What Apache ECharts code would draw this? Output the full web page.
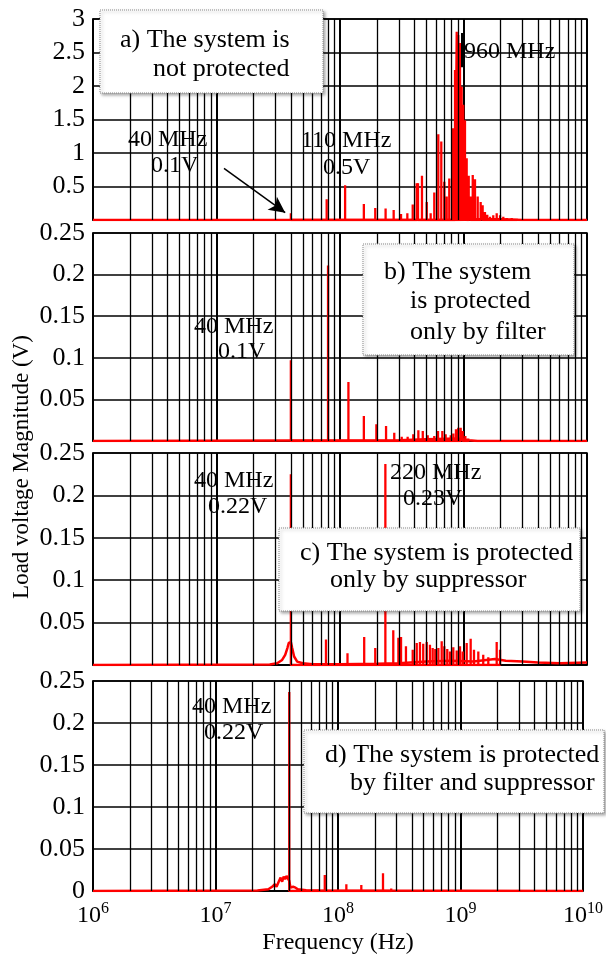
<!DOCTYPE html>
<html>
<head>
<meta charset="utf-8">
<script src="https://cdn.jsdelivr.net/npm/echarts@6/dist/echarts.min.js"></script>
<style>
  html, body { margin: 0; padding: 0; background: #fff; }
  #chart { width: 606px; height: 957px; }
</style>
</head>
<body>
<div id="chart"></div>
<script>
// frequencies in MHz, magnitudes in V
const aFreq = [40, 78, 110, 156, 193, 234, 272, 312, 351, 388, 418, 428, 461, 504, 542, 580, 625, 661, 699, 731, 767, 818, 854, 881, 907, 937, 966, 995, 1028, 1061, 1102, 1143, 1188, 1239, 1303, 1377, 1429, 1492, 1558, 1640, 1742, 1857, 1977, 2100, 2239, 2456, 2699];
const aAmp = [0.1, 0.31, 0.52, 0.24, 0.18, 0.17, 0.15, 0.09, 0.1, 0.23, 0.55, 0.55, 0.66, 0.27, 0.1, 0.41, 1.28, 1.17, 0.57, 0.35, 0.62, 1.37, 2.24, 2.81, 2.76, 2.64, 1.99, 1.72, 1.49, 0.92, 0.66, 0.35, 0.67, 0.61, 0.35, 0.27, 0.22, 0.12, 0.08, 0.05, 0.07, 0.1, 0.07, 0.05, 0.03, 0.03, 0.02];
const aFloorFreq = [1, 900, 1300, 2000, 3000, 10000];
const aFloorAmp = [0, 0, 0.01, 0.01, 0, 0];

const bFreq = [40, 80, 117, 156, 197, 236, 275, 316, 353, 392, 431, 468, 513, 580, 622, 674, 717, 788, 827, 869, 907, 949, 985, 1035, 1094];
const bAmp = [0.097, 0.211, 0.071, 0.030, 0.020, 0.018, 0.010, 0.005, 0.005, 0.008, 0.013, 0.012, 0.007, 0.006, 0.012, 0.012, 0.008, 0.007, 0.009, 0.014, 0.016, 0.016, 0.012, 0.006, 0.003];
const bFloorFreq = [1, 300, 500, 900, 1100, 1300, 10000];
const bFloorAmp = [0, 0.001, 0.002, 0.003, 0.001, 0, 0];

const cFreq = [40, 77, 115, 157, 193, 233, 270, 297, 312, 342, 388, 418, 444, 472, 504, 535, 563, 591, 626, 666, 699, 739, 778, 827, 881, 937, 985, 1061, 1143, 1216, 1318, 1445, 1588, 1857, 1976];
const cAmp = [0.225, 0.03, 0.014, 0.033, 0.02, 0.237, 0.041, 0.032, 0.033, 0.022, 0.018, 0.026, 0.027, 0.025, 0.027, 0.024, 0.02, 0.019, 0.02, 0.028, 0.022, 0.019, 0.016, 0.021, 0.017, 0.022, 0.016, 0.026, 0.031, 0.018, 0.016, 0.012, 0.009, 0.027, 0.018];
const cFloorFreq = [1, 27, 31, 34, 36, 37.5, 38.5, 40, 41, 42.5, 45, 50, 60, 100, 200, 300, 500, 800, 1200, 1800, 2200, 3000, 4000, 6000, 10000];
const cFloorAmp = [0, 0.0005, 0.002, 0.006, 0.012, 0.02, 0.026, 0.027, 0.02, 0.01, 0.004, 0.002, 0.001, 0.0008, 0.0015, 0.002, 0.004, 0.005, 0.004, 0.007, 0.005, 0.004, 0.003, 0.002, 0.003];

const dFreq = [40, 78, 117, 155, 233, 272];
const dAmp = [0.237, 0.019, 0.008, 0.007, 0.021, 0.003];
const dFloorFreq = [1, 22, 27, 29, 30.5, 31.5, 33, 34, 35, 36, 37, 38, 39, 40, 41, 43, 45, 47, 55, 70, 10000];
const dFloorAmp = [0, 0.0005, 0.002, 0.005, 0.008, 0.005, 0.012, 0.016, 0.011, 0.017, 0.014, 0.018, 0.02, 0.012, 0.004, 0.005, 0.004, 0.002, 0.001, 0.0005, 0];

const decades = [1e6, 1e7, 1e8, 1e9];
const minorSteps = [2, 3, 4, 5, 6, 7, 8, 9];
const yMax = [3, 0.25, 0.25, 0.25];
const yStep = [0.5, 0.05, 0.05, 0.05];

const FONT = '"Liberation Serif", "Times New Roman", serif';
const RED = '#ff0000';

function spikes(freqs, amps) {
  let out = [];
  freqs.forEach((f, i) => {
    out.push([f * 1e6, 0], [f * 1e6, amps[i]], [f * 1e6, 0]);
  });
  return out;
}
function floor(freqs, amps) {
  return freqs.map((f, i) => [f * 1e6, amps[i]]);
}

let minorLines = [];
decades.forEach(d => minorSteps.forEach(m => minorLines.push({ xAxis: m * d })));

const panels = [
  { s: spikes(aFreq, aAmp), f: floor(aFloorFreq, aFloorAmp) },
  { s: spikes(bFreq, bAmp), f: floor(bFloorFreq, bFloorAmp) },
  { s: spikes(cFreq, cAmp), f: floor(cFloorFreq, cFloorAmp) },
  { s: spikes(dFreq, dAmp), f: floor(dFloorFreq, dFloorAmp) }
];
const gridBoxes = [[19, 201], [233, 208], [453, 212], [681, 210]];

let grids = [], xAxes = [], yAxes = [], series = [];
panels.forEach((p, i) => {
  grids.push({
    left: 93, right: 19, top: gridBoxes[i][0], height: gridBoxes[i][1],
    show: true, borderColor: '#000', borderWidth: 1.5, backgroundColor: 'transparent'
  });
  xAxes.push({
    type: 'log', logBase: 10, min: 1e6, max: 1e10, gridIndex: i, splitNumber: 4,
    axisLine: { show: true, lineStyle: { color: '#000', width: 1.5 } },
    axisTick: { show: false },
    splitLine: { show: true, lineStyle: { color: '#000', width: 2 } },
    axisLabel: {
      show: i === 3, margin: 10,
      formatter: v => '{b|10}{s|' + Math.round(Math.log10(v)) + '}',
      rich: {
        b: { fontSize: 24, fontFamily: FONT, color: '#000', lineHeight: 30 },
        s: { fontSize: 16, fontFamily: FONT, color: '#000', verticalAlign: 'top', lineHeight: 30 }
      }
    },
    name: i === 3 ? 'Frequency (Hz)' : '',
    nameLocation: 'middle', nameGap: 40,
    nameTextStyle: { fontSize: 24, fontFamily: FONT, color: '#000' }
  });
  yAxes.push({
    type: 'value', min: 0, max: yMax[i], interval: yStep[i], gridIndex: i,
    axisLine: { show: true, lineStyle: { color: '#000', width: 1.5 } },
    axisTick: { show: false },
    splitLine: { show: true, lineStyle: { color: '#000', width: 1.5 } },
    axisLabel: {
      margin: 8, fontSize: 26, fontFamily: FONT, color: '#000',
      formatter: v => (v === 0 && i < 3) ? '' : String(+v.toFixed(2))
    }
  });
  // minor log grid lines
  series.push({
    type: 'line', xAxisIndex: i, yAxisIndex: i, data: [], z: 1, silent: true,
    markLine: {
      silent: true, symbol: 'none', animation: false, label: { show: false },
      lineStyle: { color: '#000', width: 1.3, type: 'solid', opacity: 1 },
      data: minorLines
    }
  });
  series.push({
    type: 'line', xAxisIndex: i, yAxisIndex: i, data: p.f, z: 3,
    showSymbol: false, lineStyle: { color: RED, width: 2.5 }, itemStyle: { color: RED }
  });
  series.push({
    type: 'line', xAxisIndex: i, yAxisIndex: i, data: p.s, z: 4,
    showSymbol: false, lineStyle: { color: RED, width: 2.3 }, itemStyle: { color: RED }
  });
});

// arrow to 40 MHz and leader to 960 MHz in panel a
series.push({
  type: 'line', xAxisIndex: 0, yAxisIndex: 0, data: [], z: 6, silent: true,
  markLine: {
    silent: true, animation: false, label: { show: false },
    lineStyle: { color: '#000', width: 1.5, type: 'solid' },
    data: [
      [{ coord: [11.5e6, 0.77], symbol: 'none' }, { coord: [36e6, 0.11], symbol: 'arrow', symbolSize: [12, 16] }],
      [{ coord: [967e6, 2.79], symbol: 'none' }, { coord: [967e6, 2.28], symbol: 'none', lineStyle: { width: 2 } }]
    ]
  }
});

function txt(s, x, y, size) {
  return { type: 'text', x: x, y: y, z: 110, style: { text: s, font: (size || 24) + 'px ' + FONT, fill: '#000', verticalAlign: 'middle' } };
}
function box(x, y, w, h) {
  return {
    type: 'rect', z: 100, shape: { x: x, y: y, width: w, height: h },
    style: { fill: '#fff', stroke: '#888', lineWidth: 1, lineDash: [1, 1], shadowBlur: 3, shadowOffsetX: 2, shadowOffsetY: 2, shadowColor: 'rgba(0,0,0,0.35)' }
  };
}

const graphics = [
  box(100, 10, 223, 83),
  txt('a) The system is', 120, 40, 26),
  txt('not protected', 153, 69, 26),
  box(363, 244, 211, 111),
  txt('b) The system', 384, 272, 26),
  txt('is protected', 410, 301, 26),
  txt('only by filter', 410, 332, 26),
  box(279, 528, 301, 83),
  txt('c) The system is protected', 300, 553, 26),
  txt('only by suppressor', 330, 580, 26),
  box(304, 730, 300, 83),
  txt('d) The system is protected', 325, 755, 26),
  txt('by filter and suppressor', 350, 783, 26),
  txt('40 MHz', 128, 140),
  txt('0.1V', 151, 166),
  txt('110 MHz', 301, 141),
  txt('0.5V', 323, 168),
  txt('960 MHz', 464, 52),
  txt('40 MHz', 194, 327),
  txt('0.1V', 218, 352),
  txt('40 MHz', 194, 481),
  txt('0.22V', 208, 507),
  txt('220 MHz', 390, 473),
  txt('0.23V', 403, 499),
  txt('40 MHz', 192, 707),
  txt('0.22V', 204, 733),
  {
    type: 'text', x: 22, y: 467, rotation: Math.PI / 2, z: 110,
    style: { text: 'Load voltage Magnitude (V)', font: '23px ' + FONT, fill: '#000', align: 'center', verticalAlign: 'middle' }
  }
];

const myChart = echarts.init(document.getElementById('chart'));
myChart.setOption({
  animation: false,
  backgroundColor: '#fff',
  grid: grids,
  xAxis: xAxes,
  yAxis: yAxes,
  series: series,
  graphic: graphics
});
</script>
</body>
</html>
